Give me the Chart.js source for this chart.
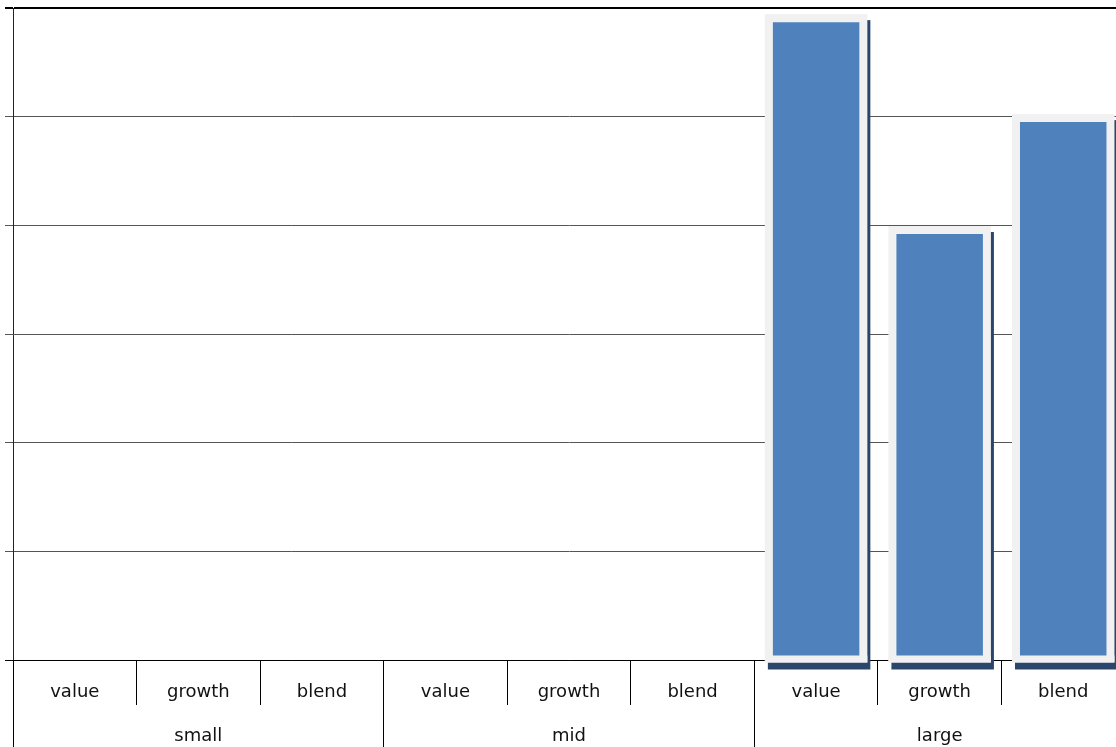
<!DOCTYPE html>
<html lang="en">
<head>
  <meta charset="UTF-8" />
  <title>Style box weights</title>
  <script src="https://cdn.jsdelivr.net/npm/chart.js"></script>
  <style>
    html, body {
      margin: 0;
      padding: 0;
      background: #ffffff;
      overflow: hidden;
    }
    .wrap {
      position: relative;
      width: 1125px;
      height: 747px;
    }
  </style>
</head>
<body>
  <div class="wrap">
    <canvas id="boxChart"></canvas>
  </div>

  <script>
  // size groups along the bottom, style buckets inside each group
  const sizes = ['small', 'mid', 'large'];
  const styles = ['value', 'growth', 'blend'];
  const labels = ['value', 'growth', 'blend', 'value', 'growth', 'blend', 'value', 'growth', 'blend'];
  const values = [null, null, null, null, null, null, 5.87, 3.92, 4.95];
  const yTicks = [0, 1, 2, 3, 4, 5, 6];

  const BLUE = '#4f81bd';
  const FRAME = '#f1f1f1';
  const SHADOW = '#2a466b';
  const FONT = '18px "DejaVu Sans"';

  // light frame + dark drop shadow around each bar
  function frameRect(bar) {
    const p = bar.getProps(['x', 'y', 'base', 'width'], true);
    const left = p.x - p.width / 2 - 8;
    const top = p.y - 8;
    return { left, top, w: p.width + 16, h: p.base + 3 - top, base: p.base };
  }

  const barFrame = {
    id: 'barFrame',
    beforeDatasetsDraw(chart) {
      const ctx = chart.ctx;
      const meta = chart.getDatasetMeta(0);
      ctx.save();
      meta.data.forEach((bar, i) => {
        if (values[i] == null) return;
        const r = frameRect(bar);
        ctx.fillStyle = SHADOW;
        ctx.fillRect(r.left + 3, r.top + 6, r.w, r.h + 1);
        ctx.fillStyle = FRAME;
        ctx.fillRect(r.left, r.top, r.w, r.h);
      });
      ctx.restore();
    },
    afterDatasetsDraw(chart) {
      const ctx = chart.ctx;
      const meta = chart.getDatasetMeta(0);
      ctx.save();
      meta.data.forEach((bar, i) => {
        if (values[i] == null) return;
        const r = frameRect(bar);
        ctx.fillStyle = FRAME;
        ctx.fillRect(r.left, r.base - 4, r.w, 7);
      });
      ctx.restore();
    }
  };

  // two-level category labels: style under each bar, size under each group
  const groupAxis = {
    id: 'groupAxis',
    afterDraw(chart) {
      const ctx = chart.ctx;
      const xs = chart.scales.x;
      const top = chart.chartArea.bottom;
      const bottom = chart.height;
      const per = styles.length;
      ctx.save();

      ctx.font = FONT;
      ctx.fillStyle = '#111';
      ctx.textAlign = 'center';
      ctx.textBaseline = 'middle';
      labels.forEach((lab, i) => {
        ctx.fillText(lab, xs.getPixelForValue(i), top + 32);
      });
      sizes.forEach((s, g) => {
        ctx.fillText(s, xs.getPixelForValue(g * per + 1), top + 76);
      });

      // group separators run the full depth of the label band,
      // snapped the same way the grid snaps its 1px lines
      ctx.strokeStyle = '#000';
      ctx.lineWidth = 1;
      ctx.beginPath();
      for (let g = 0; g < sizes.length; g++) {
        const x = g === 0 ? xs.left
          : (xs.getPixelForValue(g * per - 1) + xs.getPixelForValue(g * per)) / 2;
        const px = Math.round(x - 0.5) + 0.5;
        ctx.moveTo(px, top);
        ctx.lineTo(px, bottom);
      }
      ctx.stroke();
      ctx.restore();
    }
  };

  new Chart(document.getElementById('boxChart'), {
    type: 'bar',
    data: {
      labels: labels,
      datasets: [{
        data: values,
        backgroundColor: BLUE,
        borderWidth: 0,
        barPercentage: 0.7,
        categoryPercentage: 1.0
      }]
    },
    options: {
      responsive: true,
      maintainAspectRatio: false,
      animation: false,
      layout: { padding: { left: 5, top: 8, right: 0, bottom: 42 } },
      plugins: {
        legend: { display: false },
        tooltip: { enabled: false }
      },
      scales: {
        x: {
          offset: true,
          grid: {
            offset: true,
            drawOnChartArea: false,
            tickLength: 45,
            color: '#000',
            lineWidth: 1
          },
          border: { color: '#000', width: 1 },
          ticks: { display: false }
        },
        y: {
          min: yTicks[0],
          max: yTicks[yTicks.length - 1],
          afterBuildTicks(scale) {
            scale.ticks = yTicks.map(v => ({ value: v }));
          },
          grid: {
            tickLength: 8,
            color: ctx => (ctx.tick && (ctx.tick.value === 6 || ctx.tick.value === 0)) ? '#000' : '#555',
            lineWidth: ctx => (ctx.tick && ctx.tick.value === 6) ? 2 : 1
          },
          border: { color: '#222', width: 1 },
          ticks: { display: false }
        }
      }
    },
    plugins: [barFrame, groupAxis]
  });
  </script>
</body>
</html>
